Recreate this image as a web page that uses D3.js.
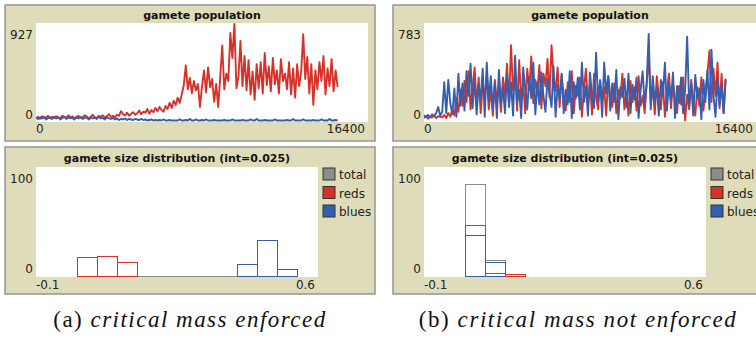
<!DOCTYPE html>
<html>
<head>
<meta charset="utf-8">
<script src="https://cdn.jsdelivr.net/npm/d3@7"></script>
<style>
  body { margin: 0; background: #fff; }
  svg { display: block; }
</style>
</head>
<body>
<svg id="chart" width="756" height="340"></svg>
<script>
// ---- gamete population over time (one sample every 100 ticks) ----
const sampleEvery = 100;
const popXMax = 16400;
const popMaxA = 927;
const popMaxB = 783;

const redsPopA = [
  20,35,15,40,25,30,45,20,35,25, 40,30,20,45,35,25,50,30,40,20,
  35,45,25,30,50,40,20,35,55,30, 25,45,35,50,30,40,60,35,45,30,
  55,45,90,60,50,75,45,65,80,55, 70,95,60,85,75,110,65,100,80,120,
  90,130,100,85,140,110,170,120,190,150, 220,170,250,340,530,300,410,260,380,290,
  350,130,330,480,270,510,320,400,180,350, 130,420,720,300,450,380,842,600,927,310,
  420,765,330,620,290,580,250,470,200,540, 310,560,260,650,340,520,280,600,350,480,
  260,590,380,450,300,560,250,500,220,540, 330,470,830,400,610,260,540,150,480,300,
  560,380,620,250,500,330,590,280,480,320
];
const bluesPopA = [
  25,15,30,20,35,10,25,30,15,35, 20,30,10,25,35,15,30,20,25,10,
  30,20,35,15,25,30,10,25,20,30, 15,35,20,25,10,30,20,15,25,10,
  20,5,15,10,20,5,15,10,5,15, 10,5,15,5,10,0,5,10,0,5,
  0,5,0,10,0,0,5,0,0,0, 0,10,0,0,5,0,15,0,0,10,
  0,0,5,0,10,0,0,0,5,0, 0,0,0,5,0,0,0,10,0,0,
  0,0,5,0,0,0,10,0,0,15, 0,0,0,5,0,0,0,0,10,0,
  0,0,0,0,5,0,0,15,0,0, 0,0,10,0,0,0,0,5,0,0,
  0,10,0,0,0,15,0,0,5,0
];
const redsPopB = [
  20,35,15,30,25,40,20,35,30,25, 45,20,60,30,90,40,180,70,250,120,
  320,150,400,90,280,430,120,350,60,300, 180,380,90,260,40,330,150,290,70,350,
  200,460,130,610,240,380,80,490,170,300, 60,420,250,520,140,330,230,450,100,380,
  280,500,190,610,350,240,430,110,370,200, 80,310,150,400,60,280,200,350,30,260,
  420,120,300,50,380,190,90,330,160,270, 40,360,210,110,300,60,250,180,380,90,
  230,40,320,150,270,80,360,120,200,60, 300,525,140,270,50,360,190,90,310,30,
  240,380,100,300,170,60,280,130,350,0, 210,90,330,160,40,270,120,350,80,230,
  380,568,150,420,200,470,100,380,60,340
];
const bluesPopB = [
  40,30,45,25,50,35,60,110,40,70, 310,60,330,140,50,260,30,380,120,300,
  80,400,200,460,100,340,50,290,170,420, 30,470,160,360,90,300,20,410,140,270,
  60,380,110,310,40,525,150,250,20,430, 260,90,350,180,470,50,310,130,390,200,
  70,340,220,110,440,30,290,170,380,60, 250,130,400,20,310,180,350,90,470,150,
  280,40,390,200,100,550,160,320,30,470, 220,360,80,300,150,410,10,270,190,340,
  110,380,60,290,170,350,20,250,400,130, 300,703,90,360,150,270,40,330,200,470,
  80,310,160,390,20,280,140,350,60,250, 680,120,300,40,370,180,260,10,330,150,
  410,90,575,200,30,340,120,280,60,330
];

// ---- gamete size histograms: bar counts from each pen's first bin ----
const sizeDomain = [-0.1, 0.6];
const sizeMaxCount = 100;
const barWidth = 0.05;
const totalHistA = [17,18,12,0,0,0,0,0,11,33,6];
const redsHistA  = [17,18,12];
const bluesHistA = [11,33,6];
const totalHistB = [84,14,1];
const redsHistB  = [47,2,1];
const bluesHistB = [37,12];
const firstBinA = { total: 0, reds: 0, blues: 0.4 };
const firstBinB = { total: 0, reds: 0, blues: 0 };

const legendNames = ["total", "reds", "blues"];
const popTitle = "gamete population";
const histTitle = "gamete size distribution (int=0.025)";
const captionTags = ["(a)", "(b)"];
const captionTexts = ["critical mass enforced", "critical mass not enforced"];

// ---- drawing ----
const colors = { total: "#8c8c8c", reds: "#d7322a", blues: "#355eae" };
const khaki = "#dfddb9";
const frame = "#959595";
const uiFont = "'DejaVu Sans', Verdana, sans-serif";

const svg = d3.select("#chart");

function drawColumn(ox, popMax, redsPop, bluesPop, hist, firstBin, tag, caption, idx) {
  const g = svg.append("g").attr("transform", `translate(${ox},0)`);

  // ---------- population panel ----------
  g.append("rect").attr("x", 5).attr("y", 5).attr("width", 370).attr("height", 136)
    .attr("fill", khaki).attr("stroke", frame).attr("stroke-width", 1.5);
  const pL = 36, pR = 368, pT = 23, pB = 122;
  g.append("rect").attr("x", pL).attr("y", pT).attr("width", pR - pL).attr("height", pB - pT)
    .attr("fill", "#fff");
  const clipId = "clipPop" + idx;
  g.append("clipPath").attr("id", clipId).append("rect")
    .attr("x", pL).attr("y", pT).attr("width", pR - pL).attr("height", pB - pT);

  const x = d3.scaleLinear().domain([0, popXMax]).range([pL, pR]);
  const y = d3.scaleLinear().domain([0, popMax]).range([pB - 1.5, pT + 1]);
  const line = d3.line().x((d, i) => x(i * sampleEvery)).y(d => y(d));

  const lines = g.append("g").attr("clip-path", `url(#${clipId})`);
  lines.append("path").datum(redsPop).attr("d", line).attr("fill", "none")
    .attr("stroke", colors.reds).attr("stroke-width", 1.9).attr("stroke-linejoin", "round");
  lines.append("path").datum(bluesPop).attr("d", line).attr("fill", "none")
    .attr("stroke", colors.blues).attr("stroke-width", 1.9).attr("stroke-linejoin", "round");

  g.append("text").attr("x", (pL + pR) / 2).attr("y", 19).attr("text-anchor", "middle")
    .attr("font-family", uiFont).attr("font-size", 11).attr("font-weight", "bold")
    .attr("fill", "#111").text(popTitle);

  const lab = (sel, xx, yy, anchor, txt) => sel.append("text").attr("x", xx).attr("y", yy)
    .attr("text-anchor", anchor).attr("font-family", uiFont).attr("font-size", 12)
    .attr("fill", "#222").text(txt);
  const yDom = y.domain(), xDom = x.domain();
  lab(g, 33, 39, "end", yDom[1]);
  lab(g, 33, 119, "end", yDom[0]);
  lab(g, pL, 133, "start", xDom[0]);
  lab(g, 365, 133, "end", xDom[1]);

  // ---------- histogram panel ----------
  g.append("rect").attr("x", 5).attr("y", 147).attr("width", 370).attr("height", 147)
    .attr("fill", khaki).attr("stroke", frame).attr("stroke-width", 1.5);
  const hL = 36, hR = 318, hT = 167, hB = 277;
  g.append("rect").attr("x", hL).attr("y", hT).attr("width", hR - hL).attr("height", hB - hT)
    .attr("fill", "#fff");

  const hx = d3.scaleLinear().domain(sizeDomain).range([36.7, 316.7]);
  const hy = d3.scaleLinear().domain([0, sizeMaxCount]).range([hB - 1.5, hT]);
  const px = v => Math.round(v) + 0.5;

  // each bar is an open outline; zero-count bins collapse to a line on the baseline
  ["total", "reds", "blues"].forEach(pen => {
    const bins = hist[pen].map((c, i) => ({ x0: firstBin[pen] + i * barWidth, c }));
    g.append("g").selectAll("path").data(bins).join("path")
      .attr("d", d => {
        const x0 = px(hx(d.x0)), x1 = px(hx(d.x0 + barWidth));
        const y0 = px(hy(0)), y1 = px(hy(d.c));
        return `M${x0},${y0}V${y1}H${x1}V${y0}Z`;
      })
      .attr("fill", "none").attr("stroke", colors[pen]).attr("stroke-width", 1)
      .attr("shape-rendering", "crispEdges");
  });

  g.append("text").attr("x", (hL + hR) / 2).attr("y", 162).attr("text-anchor", "middle")
    .attr("font-family", uiFont).attr("font-size", 11).attr("font-weight", "bold")
    .attr("fill", "#111").text(histTitle);

  lab(g, 33, 183, "end", hy.domain()[1]);
  lab(g, 33, 273, "end", hy.domain()[0]);
  lab(g, hL, 289, "start", hx.domain()[0]);
  lab(g, 315, 289, "end", hx.domain()[1]);

  // legend
  legendNames.forEach((name, i) => {
    const ly = 168 + i * 18.5;
    g.append("rect").attr("x", 323).attr("y", ly).attr("width", 12).attr("height", 12)
      .attr("fill", colors[name]).attr("stroke", "#333").attr("stroke-width", 1);
    lab(g, 339, ly + 11, "start", name);
  });

  // caption
  const cap = g.append("text").attr("x", 190).attr("y", 327).attr("text-anchor", "middle")
    .attr("font-family", "'Liberation Serif', 'Times New Roman', serif").attr("font-size", 23)
    .attr("fill", "#111");
  cap.append("tspan").text(tag + " ");
  cap.append("tspan").attr("font-style", "italic").text(caption);
  const target = idx === 0 ? 272 : 317;
  const natural = cap.node().getComputedTextLength();
  const n = (tag + " " + caption).length;
  cap.attr("letter-spacing", (target - natural) / (n - 1));
}

drawColumn(0, popMaxA, redsPopA, bluesPopA,
  { total: totalHistA, reds: redsHistA, blues: bluesHistA }, firstBinA,
  captionTags[0], captionTexts[0], 0);
drawColumn(388, popMaxB, redsPopB, bluesPopB,
  { total: totalHistB, reds: redsHistB, blues: bluesHistB }, firstBinB,
  captionTags[1], captionTexts[1], 1);
</script>
</body>
</html>
